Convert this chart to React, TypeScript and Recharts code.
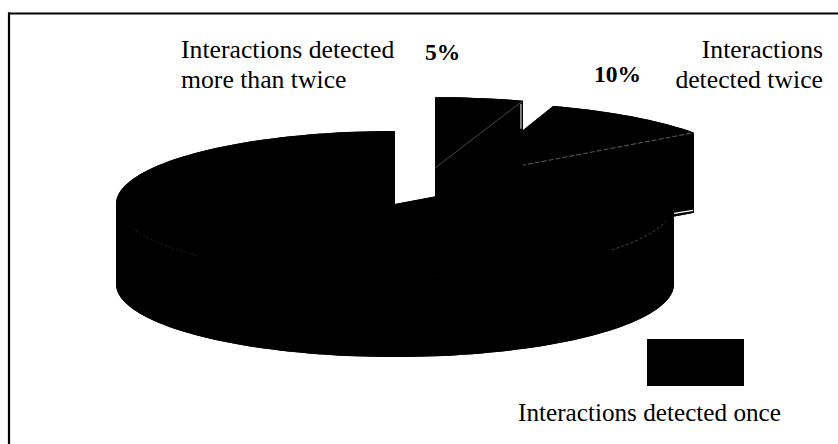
import React from "react";
import { PieChart, Pie } from "recharts";

// Share of interactions by how often they were detected (percent).
const categories = [
  "Interactions detected once",
  "Interactions detected twice",
  "Interactions detected more than twice",
];
const shares = [85, 10, 5];
const rows = categories.map((name, i) => ({ name, value: shares[i] }));

const FONT = "'Liberation Serif', 'Times New Roman', serif";
const WIDTH = 838;
const HEIGHT = 444;
const CX = 395;
const CY = 204;
const RADIUS = 279;
const TILT = 73 / 279;
const DEPTH = 80;

// Exploded slices: displacement from the pie centre and radius factors.
const sliceStyle: Record<string, { dx: number; dy: number; kx: number; ky: number }> = {
  [categories[0]]: { dx: 0, dy: 0, kx: 1, ky: 1 },
  [categories[1]]: { dx: 71, dy: -28, kx: 1.01, ky: 1.01 },
  [categories[2]]: { dx: 40, dy: -36, kx: 1.02, ky: 0.97 },
};

type Pt = [number, number];

function rimPoints(cx: number, cy: number, rx: number, ry: number, a0: number, a1: number) {
  const steps = Math.max(6, Math.ceil(Math.abs(a1 - a0) / 2));
  const pts: Pt[] = [];
  for (let i = 0; i <= steps; i++) {
    const a = ((a0 + ((a1 - a0) * i) / steps) * Math.PI) / 180;
    pts.push([cx + rx * Math.cos(a), cy - ry * Math.sin(a)]);
  }
  return pts;
}

const toLine = (pts: Pt[]) =>
  "M" + pts.map((p) => `${p[0].toFixed(2)},${p[1].toFixed(2)}`).join("L");
const toPath = (pts: Pt[]) => toLine(pts) + "Z";
const drop = (pts: Pt[]) => pts.map((p) => [p[0], p[1] + DEPTH] as Pt);

// Side wall as quads wound the same way, so overlapping pieces never cancel out.
function wallPath(rim: Pt[]) {
  const parts: string[] = [];
  for (let i = 0; i < rim.length - 1; i++) {
    const [l, r] = rim[i][0] <= rim[i + 1][0] ? [rim[i], rim[i + 1]] : [rim[i + 1], rim[i]];
    parts.push(toPath([l, r, [r[0], r[1] + DEPTH], [l[0], l[1] + DEPTH]]));
  }
  return parts.join("");
}

// Draws one slice as an extruded elliptical wedge.
function Wedge(props: any) {
  const { cx, cy, outerRadius, startAngle, endAngle } = props;
  const name: string = props.name ?? props.payload?.name;
  const s = sliceStyle[name];
  const ax = cx + s.dx;
  const ay = cy + s.dy;
  const rx = outerRadius * s.kx;
  const ry = outerRadius * TILT * s.ky;
  const rim = rimPoints(ax, ay, rx, ry, startAngle, endAngle);
  const apex: Pt = [ax, ay];
  const top = [apex, ...rim];
  const first = rim[0];
  const last = rim[rim.length - 1];
  const faceA: Pt[] = [apex, first, [first[0], first[1] + DEPTH], [ax, ay + DEPTH]];
  const faceB: Pt[] = [apex, last, [last[0], last[1] + DEPTH], [ax, ay + DEPTH]];

  return (
    <g>
      <path d={toPath(top)} fill="#000" />
      <path d={toPath(drop(top))} fill="#000" />
      <path d={wallPath(rim)} fill="#000" />
      <path d={toPath(faceA)} fill="#000" />
      <path d={toPath(faceB)} fill="#000" />
      {name === categories[0] && (
        <>
          <path d={toLine(rimPoints(ax, ay, rx, ry, 200, 225))} fill="none" stroke="#2a2a2a" strokeWidth={0.8} strokeDasharray="2 2" />
          <path d={toLine(rimPoints(ax, ay, rx, ry, 321, 346))} fill="none" stroke="#555" strokeWidth={0.8} strokeDasharray="3 2" />
        </>
      )}
      {name === categories[1] && (
        <>
          <path d={toLine([apex, first])} fill="none" stroke="#777" strokeWidth={0.8} strokeDasharray="5 2" />
          <path
            d={toLine([
              [first[0] - 20, first[1] + DEPTH + 0.7],
              [first[0] - 1, first[1] + DEPTH - 2.3],
            ])}
            fill="none"
            stroke="#fff"
            strokeWidth={1.3}
          />
        </>
      )}
      {name === categories[2] && (
        <>
          <path d={toLine([apex, first])} fill="none" stroke="#666" strokeWidth={0.7} />
          <path
            d={toLine([
              [first[0] - 2, first[1] + 3],
              [first[0] - 2, first[1] + 28],
            ])}
            fill="none"
            stroke="#ccc"
            strokeWidth={1.2}
          />
        </>
      )}
    </g>
  );
}

export default function App() {
  const textStyle = { fontFamily: FONT, fontSize: 25.7, fill: "#000" };
  const onceStyle = { fontFamily: FONT, fontSize: 25.2, fill: "#000" };
  const valueStyle = { fontFamily: FONT, fontSize: 23.5, fontWeight: 700, fill: "#000" };
  return (
    <div style={{ position: "absolute", left: 0, top: 0, width: WIDTH, height: HEIGHT, background: "#fff" }}>
      <PieChart width={WIDTH} height={HEIGHT} margin={{ top: 0, right: 0, bottom: 0, left: 0 }}>
        <line x1={8} y1={13.5} x2={WIDTH} y2={13.5} stroke="#000" strokeWidth={2.2} />
        <line x1={9} y1={12.5} x2={9} y2={HEIGHT} stroke="#000" strokeWidth={2.2} />
        <Pie
          data={rows}
          dataKey="value"
          nameKey="name"
          cx={CX}
          cy={CY}
          outerRadius={RADIUS}
          startAngle={90}
          endAngle={450}
          paddingAngle={0}
          stroke="none"
          isAnimationActive={false}
          labelLine={false}
          shape={Wedge}
          inactiveShape={Wedge}
          activeShape={Wedge}
        />
        <text x={181} y={58} {...textStyle}>Interactions detected</text>
        <text x={181} y={88} {...textStyle}>more than twice</text>
        <text x={823} y={58} textAnchor="end" {...textStyle}>Interactions</text>
        <text x={823} y={88} textAnchor="end" {...textStyle}>detected twice</text>
        <text x={425} y={60} {...valueStyle}>{`${shares[2]}%`}</text>
        <text x={594} y={82} {...valueStyle}>{`${shares[1]}%`}</text>
        <rect x={647} y={339} width={97} height={47} fill="#000" />
        <text x={518} y={421} {...onceStyle}>{categories[0]}</text>
      </PieChart>
    </div>
  );
}
